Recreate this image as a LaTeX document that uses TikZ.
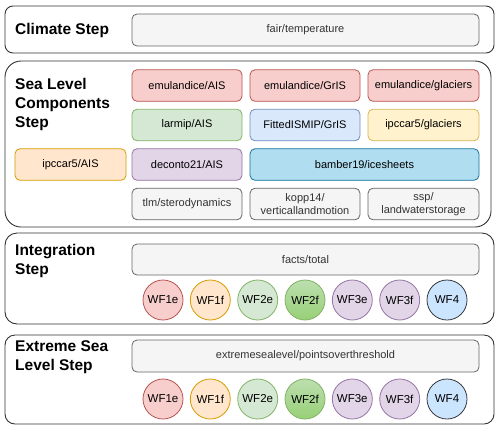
\documentclass[tikz,border=0pt]{standalone}
\usepackage{fontspec}
\setmainfont{Liberation Sans}
\begin{document}
\begin{tikzpicture}[x=1pt,y=-1pt,
  stepbox/.style={draw=black!80,line width=0.9pt,fill=white,inner sep=0pt},
  ttl/.style={anchor=west,align=left,inner sep=0pt,font=\fontsize{15.5}{19}\selectfont\bfseries},
  comp/.style={draw,rounded corners=5pt,line width=0.8pt,minimum height=31.5pt,inner sep=0pt,align=center,font=\fontsize{11}{13}\selectfont},
  red/.style={comp,fill=rdF,draw=rdD},
  org/.style={comp,fill=orF,draw=orD},
  grn/.style={comp,fill=gnF,draw=gnD},
  blu/.style={comp,fill=blF,draw=blD},
  ylw/.style={comp,fill=ylF,draw=ylD},
  prp/.style={comp,fill=ppF,draw=ppD},
  gry/.style={comp,fill=gyF,draw=gyD,text=gyT},
  cyn/.style={comp,fill=cyF,draw=cyD},
  wf/.style={circle,draw,line width=0.8pt,minimum size=40pt,inner sep=0pt,font=\fontsize{11.5}{13}\selectfont}
]
\definecolor{rdF}{HTML}{F8CECC}\definecolor{rdD}{HTML}{B85450}
\definecolor{orF}{HTML}{FFE6CC}\definecolor{orD}{HTML}{D79B00}
\definecolor{gnF}{HTML}{D5E8D4}\definecolor{gnD}{HTML}{82B366}
\definecolor{gn2}{HTML}{97D077}
\definecolor{blF}{HTML}{DAE8FC}\definecolor{blD}{HTML}{6C8EBF}
\definecolor{ylF}{HTML}{FFF2CC}\definecolor{ylD}{HTML}{D6B656}
\definecolor{ppF}{HTML}{E1D5E7}\definecolor{ppD}{HTML}{9673A6}
\definecolor{gyF}{HTML}{F5F5F5}\definecolor{gyD}{HTML}{666666}\definecolor{gyT}{HTML}{333333}
\definecolor{cyF}{HTML}{B1DDF0}\definecolor{cyD}{HTML}{10739E}
\definecolor{wf4F}{HTML}{CCE5FF}\definecolor{wf4D}{HTML}{36393D}
\useasboundingbox (0,0) rectangle (500,432);
\fill[white] (0,0) rectangle (500,432);

% step containers
\node[stepbox,rounded corners=8pt,minimum width=489pt,minimum height=47pt] (s1) at (249.5,29.5) {};
\node[stepbox,rounded corners=16pt,minimum width=486pt,minimum height=166pt] (s2) at (248,144) {};
\node[stepbox,rounded corners=12pt,minimum width=489pt,minimum height=91pt] (s3) at (249.5,278.5) {};
\node[stepbox,rounded corners=10pt,minimum width=489pt,minimum height=89pt] (s4) at (249.5,379.5) {};

% titles
\node[ttl] (t1) at (15,30) {Climate Step};
\node[ttl] (t2) at (15,104) {Sea Level\\Components\\Step};
\node[ttl] (t3) at (15,261) {Integration\\Step};
\node[ttl] (t4) at (15,357.5) {Extreme Sea\\Level Step};

% climate
\node[gry,minimum width=347pt,minimum height=32pt] (fair) at (305.5,30) {fair/temperature};

% sea level components
\node[red,minimum width=110pt] (c11) at (187,85.5) {emulandice/AIS};
\node[red,minimum width=110pt] (c12) at (305,85.5) {emulandice/GrIS};
\node[red,minimum width=111pt] (c13) at (423.5,85.5) {emulandice/glaciers};
\node[grn,minimum width=110pt] (c21) at (187,125) {larmip/AIS};
\node[blu,minimum width=110pt] (c22) at (305,125) {FittedISMIP/GrIS};
\node[ylw,minimum width=111pt] (c23) at (423.5,125) {ipccar5/glaciers};
\node[org,minimum width=111pt] (c30) at (70.5,164.5) {ipccar5/AIS};
\node[prp,minimum width=110pt] (c31) at (187,164.5) {deconto21/AIS};
\node[cyn,minimum width=229pt] (c32) at (364.5,164.5) {bamber19/icesheets};
\node[gry,minimum width=110pt] (c41) at (187,204) {tlm/sterodynamics};
\node[gry,minimum width=110pt] (c42) at (305,204) {kopp14/\\verticallandmotion};
\node[gry,minimum width=111pt] (c43) at (423.5,204) {ssp/\\landwaterstorage};

% integration
\node[gry,minimum width=347pt,minimum height=31pt] (tot) at (305.5,259.5) {facts/total};
\node[wf,fill=rdF,draw=rdD] (i1) at (163,300) {WF1e};
\node[wf,fill=orF,draw=orD] (i2) at (210.3,300) {WF1f};
\node[wf,fill=gnF,draw=gnD] (i3) at (257.7,300) {WF2e};
\node[wf,top color=gnF!60!gn2,bottom color=gn2,draw=gnD] (i4) at (305,300) {WF2f};
\node[wf,fill=ppF,draw=ppD] (i5) at (352.3,300) {WF3e};
\node[wf,fill=ppF,draw=ppD] (i6) at (399.7,300) {WF3f};
\node[wf,fill=wf4F,draw=wf4D] (i7) at (447,300) {WF4};

% extreme sea level
\node[gry,minimum width=347pt,minimum height=32pt] (esl) at (305.5,356) {extremesealevel/pointsoverthreshold};
\node[wf,fill=rdF,draw=rdD] (e1) at (163,399) {WF1e};
\node[wf,fill=orF,draw=orD] (e2) at (210.3,399) {WF1f};
\node[wf,fill=gnF,draw=gnD] (e3) at (257.7,399) {WF2e};
\node[wf,top color=gnF!60!gn2,bottom color=gn2,draw=gnD] (e4) at (305,399) {WF2f};
\node[wf,fill=ppF,draw=ppD] (e5) at (352.3,399) {WF3e};
\node[wf,fill=ppF,draw=ppD] (e6) at (399.7,399) {WF3f};
\node[wf,fill=wf4F,draw=wf4D] (e7) at (447,399) {WF4};
\end{tikzpicture}
\end{document}
